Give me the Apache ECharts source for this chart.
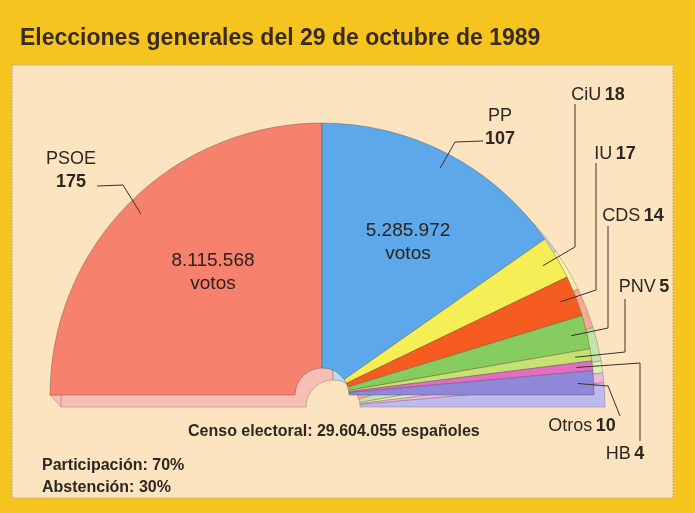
<!DOCTYPE html>
<html>
<head>
<meta charset="utf-8">
<title>Elecciones generales 1989</title>
<script src="https://cdn.jsdelivr.net/npm/echarts@6/dist/echarts.min.js"></script>
<style>
  html, body { margin: 0; padding: 0; background: #f6c41e; }
  #main { width: 695px; height: 513px; }
</style>
</head>
<body>
<div id="main"></div>
<script>
// escaños del Congreso, elecciones de 1989
const partidos = ['PSOE', 'PP', 'CiU', 'IU', 'CDS', 'PNV', 'HB', 'Otros'];
const escanos = [175, 107, 18, 17, 14, 5, 4, 10];
const votos = [8115568, 5285972, null, null, null, null, null, null];
const censo = 29604055;
const participacion = 70;
const abstencion = 30;

const colores = ['#f6816c', '#5ca8ea', '#f6ee55', '#f65c1f', '#86cc5e', '#c6e272', '#e26cc6', '#8f88da'];
const coloresLado = ['#f7bfb4', '#bcd9f3', '#f8f2ac', '#f7ab92', '#c2e4aa', '#dcefb4', '#efb6de', '#bfbaec'];

// geometria del semicirculo
const CX = 322, CY = 395, R = 272, R0 = 27;
const DX = 11, DY = 12; // cara lateral (efecto 3D)

// rotulos: [x, y, codoX, codoY, finX, finY]
const rotulos = [
  [71, 171, 123, 185, 97, 186],
  [500, 128, 455, 142, 483, 141],
  [598, 95, 575, 247, 575, 104],
  [615, 154, 596, 290, 596, 163],
  [633, 216, 608, 328, 608, 226],
  [644, 287, 625, 352, 625, 299],
  [625, 454, 640, 363, 640, 441],
  [582, 426, 608, 386, 620, 416]
];
const posVotos = [[213, 272], [408, 242]];

const font = '"Liberation Sans", Arial, sans-serif';
const total = escanos.reduce((a, b) => a + b, 0);

function puntos(n) {
  return String(n).replace(/\B(?=(\d{3})+(?!\d))/g, '.');
}

function anguloMedio(i) {
  let antes = 0;
  for (let k = 0; k < i; k++) antes += escanos[k];
  return Math.PI - (antes + escanos[i] / 2) / total * Math.PI;
}

const datos = partidos.map((p, i) => ({ name: p, value: escanos[i] }));

const chart = echarts.init(document.getElementById('main'));

const option = {
  backgroundColor: '#f6c41e',
  animation: false,
  graphic: [
    {
      type: 'rect', z: 0,
      shape: { x: 12, y: 65, width: 661, height: 433 },
      style: { fill: '#fce4c1', stroke: '#c9a983', lineWidth: 1, lineDash: [2, 1] }
    },
    {
      // esquina izquierda de la cara lateral
      type: 'polygon', z: 1,
      shape: { points: [[CX - R, CY], [CX - R + DX, CY + DY], [CX - R + DX + 2, CY]] },
      style: { fill: coloresLado[0], stroke: 'rgba(110,90,80,0.5)', lineWidth: 0.7 }
    },
    {
      type: 'text', z: 10, x: 20, y: 39,
      style: {
        text: 'Elecciones generales del 29 de octubre de 1989',
        font: 'bold 23px ' + font, fill: '#3a2a1e', textVerticalAlign: 'middle'
      }
    },
    {
      type: 'text', z: 10, x: 188, y: 432,
      style: {
        text: 'Censo electoral: ' + puntos(censo) + ' españoles',
        font: 'bold 16px ' + font, fill: '#2e2620', textVerticalAlign: 'middle'
      }
    },
    {
      type: 'text', z: 10, x: 42, y: 466,
      style: {
        text: 'Participación: ' + participacion + '%',
        font: 'bold 16px ' + font, fill: '#2e2620', textVerticalAlign: 'middle'
      }
    },
    {
      type: 'text', z: 10, x: 42, y: 488,
      style: {
        text: 'Abstención: ' + abstencion + '%',
        font: 'bold 16px ' + font, fill: '#2e2620', textVerticalAlign: 'middle'
      }
    }
  ],
  series: [
    {
      // cara lateral, desplazada hacia abajo
      type: 'pie', z: 2, silent: true,
      center: [CX + DX, CY + DY], radius: [R0, R],
      startAngle: 180, endAngle: 0, clockwise: true,
      label: { show: false }, labelLine: { show: false },
      itemStyle: {
        color: (p) => coloresLado[p.dataIndex],
        borderColor: 'rgba(110,90,80,0.5)', borderWidth: 0.7
      },
      data: datos
    },
    {
      // cara superior, con los votos de los dos grandes
      type: 'pie', z: 3, silent: true,
      center: [CX, CY], radius: [R0, R],
      startAngle: 180, endAngle: 0, clockwise: true,
      itemStyle: {
        color: (p) => colores[p.dataIndex],
        borderColor: 'rgba(90,70,60,0.55)', borderWidth: 0.7
      },
      label: {
        show: true, position: 'inside',
        formatter: (p) => votos[p.dataIndex] ? puntos(votos[p.dataIndex]) + '\nvotos' : '',
        fontFamily: font, fontSize: 19, lineHeight: 23, color: '#2a221c'
      },
      labelLine: { show: false },
      labelLayout: function (p) {
        const v = posVotos[p.dataIndex];
        if (!v) return {};
        return { x: v[0], y: v[1], align: 'center', verticalAlign: 'middle' };
      },
      data: datos
    },
    {
      // capa transparente para nombres, escaños y lineas
      type: 'pie', z: 4, silent: true,
      center: [CX, CY], radius: [R0, R],
      startAngle: 180, endAngle: 0, clockwise: true,
      avoidLabelOverlap: false,
      itemStyle: { color: 'rgba(0,0,0,0)', borderWidth: 0 },
      label: {
        show: true,
        formatter: (p) => p.dataIndex < 2
          ? '{n|' + p.name + '}\n{b|' + p.value + '}'
          : '{n|' + p.name + '} {b|' + p.value + '}',
        rich: {
          n: { fontFamily: font, fontSize: 18, color: '#2e2620', lineHeight: 23 },
          b: { fontFamily: font, fontSize: 18, fontWeight: 'bold', color: '#2e2620', lineHeight: 23 }
        }
      },
      labelLine: { show: true, lineStyle: { color: '#3a302a', width: 1 } },
      labelLayout: function (p) {
        const i = p.dataIndex;
        const r = rotulos[i];
        const a = anguloMedio(i);
        const sx = CX + 256 * Math.cos(a);
        const sy = CY - 256 * Math.sin(a);
        return {
          x: r[0], y: r[1], align: 'center', verticalAlign: 'middle',
          labelLinePoints: [[sx, sy], [r[2], r[3]], [r[4], r[5]]]
        };
      },
      data: datos
    }
  ]
};

chart.setOption(option);
</script>
</body>
</html>
